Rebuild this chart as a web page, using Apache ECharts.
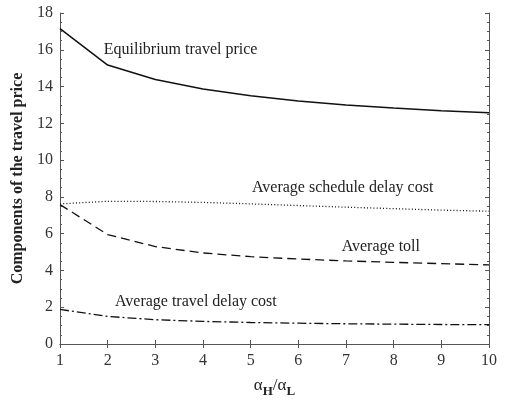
<!DOCTYPE html>
<html>
<head>
<meta charset="utf-8">
<script src="https://cdn.jsdelivr.net/npm/echarts@6/dist/echarts.min.js"></script>
<style>
  html, body { margin: 0; padding: 0; background: #fff; }
  #chart { width: 505px; height: 403px; }
</style>
</head>
<body>
<div id="chart"></div>
<script>
// ratio alpha_H / alpha_L
var ratio = [1, 2, 3, 4, 5, 6, 7, 8, 9, 10];
var equilibriumPrice = [17.15, 15.17, 14.38, 13.87, 13.5, 13.22, 13.0, 12.83, 12.68, 12.57];
var scheduleDelay = [7.62, 7.76, 7.75, 7.7, 7.62, 7.53, 7.44, 7.36, 7.28, 7.22];
var toll = [7.58, 5.95, 5.3, 4.95, 4.75, 4.62, 4.52, 4.44, 4.37, 4.3];
var travelDelay = [1.88, 1.5, 1.32, 1.23, 1.17, 1.13, 1.1, 1.08, 1.06, 1.05];
var yTicks = [0, 2, 4, 6, 8, 10, 12, 14, 16, 18];

var font = "'Liberation Serif', 'Times New Roman', serif";
var axisColor = "#555";
var textColor = "#333";

function pairs(ys) {
  return ratio.map(function (x, i) { return [x, ys[i]]; });
}

// text placed next to each curve, in data units
function note(text, x, y) {
  return {
    symbol: "circle",
    symbolSize: 1,
    silent: true,
    itemStyle: { color: "transparent" },
    label: {
      show: true,
      position: "inside",
      formatter: text,
      color: "#222",
      fontFamily: font,
      fontSize: 16
    },
    data: [{ coord: [x, y] }]
  };
}

var chart = echarts.init(document.getElementById("chart"));
var option = {
  animation: false,
  grid: { left: 60, right: 16, top: 13, bottom: 59 },
  xAxis: [
    {
      type: "value",
      min: 1,
      max: 10,
      interval: 1,
      name: "{a|α}{s|H}{a|/α}{s|L}",
      nameLocation: "middle",
      nameGap: 30,
      nameTextStyle: {
        rich: {
          a: { fontFamily: font, fontSize: 17, color: "#222" },
          s: { fontFamily: font, fontSize: 13, fontWeight: "bold", color: "#222", padding: [11, 0, 0, 0] }
        }
      },
      axisLine: { lineStyle: { color: axisColor, width: 1 } },
      axisTick: { inside: true, length: 4, lineStyle: { color: axisColor } },
      axisLabel: { color: textColor, fontFamily: font, fontSize: 16, margin: 9 },
      splitLine: { show: false }
    },
    {
      type: "value",
      position: "top",
      min: 1,
      max: 10,
      interval: 1,
      axisLine: { lineStyle: { color: axisColor, width: 1 } },
      axisTick: { inside: true, length: 4, lineStyle: { color: axisColor } },
      axisLabel: { show: false },
      splitLine: { show: false }
    }
  ],
  yAxis: [
    {
      type: "value",
      min: 0,
      max: 18,
      interval: 2,
      name: "Components of the travel price",
      nameLocation: "middle",
      nameGap: 26,
      nameTextStyle: { fontFamily: font, fontSize: 16, fontWeight: "bold", color: "#222" },
      axisLine: { show: true, lineStyle: { color: axisColor, width: 1 } },
      axisTick: { inside: true, length: 4, lineStyle: { color: axisColor } },
      minorTick: { show: true, splitNumber: 4, length: 2, lineStyle: { color: axisColor } },
      axisLabel: {
        color: textColor, fontFamily: font, fontSize: 16, margin: 7,
        formatter: function (v) { return yTicks.indexOf(v) >= 0 ? String(v) : ""; }
      },
      splitLine: { show: false }
    },
    {
      type: "value",
      position: "right",
      min: 0,
      max: 18,
      interval: 2,
      axisLine: { show: true, lineStyle: { color: axisColor, width: 1 } },
      axisTick: { inside: true, length: 4, lineStyle: { color: axisColor } },
      minorTick: { show: true, splitNumber: 4, length: 2, lineStyle: { color: axisColor } },
      axisLabel: { show: false },
      splitLine: { show: false }
    }
  ],
  series: [
    {
      name: "Equilibrium travel price",
      type: "line",
      data: pairs(equilibriumPrice),
      showSymbol: false,
      lineStyle: { color: "#111", width: 1.5, type: "solid" },
      markPoint: note("Equilibrium travel price", 3.53, 16.02)
    },
    {
      name: "Average schedule delay cost",
      type: "line",
      data: pairs(scheduleDelay),
      showSymbol: false,
      lineStyle: { color: "#111", width: 1.3, type: [1, 2.2] },
      markPoint: note("Average schedule delay cost", 6.93, 8.48)
    },
    {
      name: "Average toll",
      type: "line",
      data: pairs(toll),
      showSymbol: false,
      lineStyle: { color: "#111", width: 1.3, type: [9, 5] },
      markPoint: note("Average toll", 7.73, 5.27)
    },
    {
      name: "Average travel delay cost",
      type: "line",
      data: pairs(travelDelay),
      showSymbol: false,
      lineStyle: { color: "#111", width: 1.3, type: [9, 3, 2, 3] },
      markPoint: note("Average travel delay cost", 3.85, 2.28)
    }
  ]
};
chart.setOption(option);
</script>
</body>
</html>
